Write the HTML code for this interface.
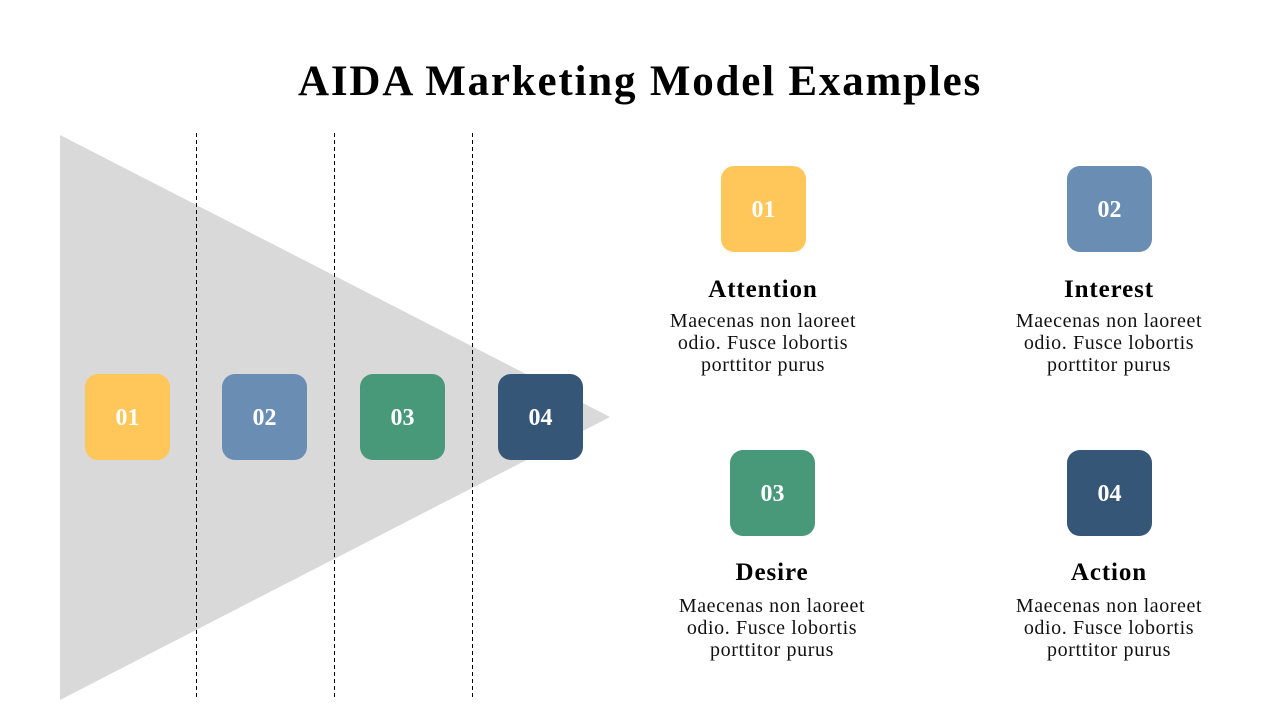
<!DOCTYPE html>
<html><head><meta charset="utf-8"><style>
body{margin:0;width:1280px;height:720px;background:#fff;position:relative;overflow:hidden;font-family:"Liberation Serif",serif;}
.t{position:absolute;left:0;width:1280px;top:57px;text-align:center;font-size:43px;font-weight:bold;color:#000;letter-spacing:1.8px;}
.b{position:absolute;width:85px;height:86px;border-radius:13px;color:#fff;font-size:24px;font-weight:bold;display:flex;align-items:center;justify-content:center;padding-top:2px;box-sizing:border-box;}
.y{background:#FFC65A}.bl{background:#6A8DB3}.g{background:#48987A}.n{background:#355677}
.h{position:absolute;width:300px;text-align:center;font-size:25px;font-weight:bold;color:#000;letter-spacing:0.9px;}
.p{position:absolute;width:300px;text-align:center;font-size:20px;line-height:22px;color:#111;letter-spacing:0.6px;}
</style></head><body>
<svg width="1280" height="720" style="position:absolute;left:0;top:0">
<polygon points="60,135 610,417 60,700" fill="#d9d9d9"/>
<g stroke="#000" stroke-width="1" stroke-dasharray="4,3">
<line x1="196.5" y1="133" x2="196.5" y2="697"/>
<line x1="334.5" y1="133" x2="334.5" y2="697"/>
<line x1="472.5" y1="133" x2="472.5" y2="697"/>
</g></svg>
<div class="t">AIDA Marketing Model Examples</div>
<div class="b y" style="left:85px;top:374px">01</div>
<div class="b bl" style="left:222px;top:374px">02</div>
<div class="b g" style="left:360px;top:374px">03</div>
<div class="b n" style="left:498px;top:374px">04</div>

<div class="b y" style="left:721px;top:166px">01</div>
<div class="b bl" style="left:1067px;top:166px">02</div>
<div class="b g" style="left:730px;top:450px">03</div>
<div class="b n" style="left:1067px;top:450px">04</div>

<div class="h" style="left:613px;top:276px">Attention</div>
<div class="p" style="left:613px;top:310px">Maecenas non laoreet<br>odio. Fusce lobortis<br>porttitor purus</div>
<div class="h" style="left:959px;top:276px">Interest</div>
<div class="p" style="left:959px;top:310px">Maecenas non laoreet<br>odio. Fusce lobortis<br>porttitor purus</div>
<div class="h" style="left:622px;top:559px">Desire</div>
<div class="p" style="left:622px;top:595px">Maecenas non laoreet<br>odio. Fusce lobortis<br>porttitor purus</div>
<div class="h" style="left:959px;top:559px">Action</div>
<div class="p" style="left:959px;top:595px">Maecenas non laoreet<br>odio. Fusce lobortis<br>porttitor purus</div>
</body></html>
